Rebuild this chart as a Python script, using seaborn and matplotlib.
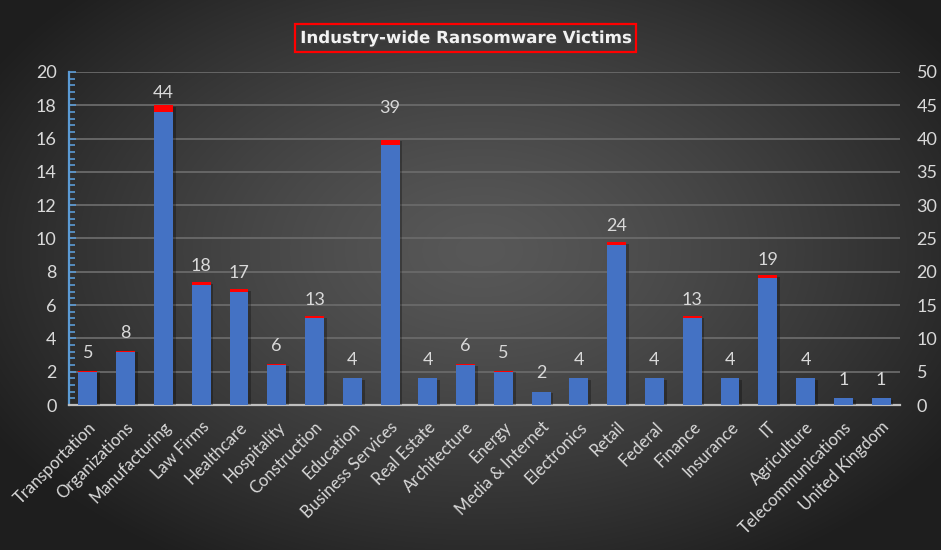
import numpy as np
import matplotlib
matplotlib.use("Agg")
import matplotlib.pyplot as plt
import matplotlib.patheffects as pe
import seaborn as sns
import pandas as pd

categories = ["Transportation", "Organizations", "Manufacturing", "Law Firms", "Healthcare",
              "Hospitality", "Construction", "Education", "Business Services", "Real Estate",
              "Architecture", "Energy", "Media & Internet", "Electronics", "Retail", "Federal",
              "Finance", "Insurance", "IT", "Agriculture", "Telecommunications", "United Kingdom"]
victims = [5, 8, 44, 18, 17, 6, 13, 4, 39, 4, 6, 5, 2, 4, 24, 4, 13, 4, 19, 4, 1, 1]
# thin red cap drawn on top of each bar (in victim units)
red_caps = [0.15, 0.1, 1.0, 0.4, 0.4, 0.1, 0.3, 0.0, 0.8, 0.0, 0.1, 0.1, 0.0, 0.0,
            0.4, 0.0, 0.3, 0.0, 0.5, 0.0, 0.0, 0.0]
left_ticks = [0, 2, 4, 6, 8, 10, 12, 14, 16, 18, 20]
right_ticks = [0, 5, 10, 15, 20, 25, 30, 35, 40, 45, 50]
title = "Industry-wide Ransomware Victims"

df = pd.DataFrame({"cat": categories, "v": victims,
                   "total": np.array(victims) + np.array(red_caps)})

sns.set_theme(style="dark")
plt.rcParams["font.family"] = ["Lato", "DejaVu Sans"]

W, H = 941, 550
fig = plt.figure(figsize=(W / 100, H / 100), dpi=100)

# radial gradient background
bg = fig.add_axes([0, 0, 1, 1])
yy, xx = np.mgrid[0:H, 0:W]
d = np.sqrt(((xx - 480) / 560.0) ** 2 + ((yy - 250) / 360.0) ** 2)
d = np.clip(d, 0, 1)
val = (0x58 - (0x58 - 0x1f) * d ** 1.3) / 255.0
img = np.dstack([val, val, val])
bg.imshow(img, extent=[0, 1, 0, 1], aspect="auto", origin="upper")
bg.set_axis_off()

ax = fig.add_axes([69 / W, 1 - 405 / H, (900 - 69) / W, (405 - 72) / H])
ax.set_facecolor("none")
ax2 = ax.twinx()
ax2.set_facecolor("none")

txt_col = "#d9d9d9"
blue = "#4472c4"

shadow = [pe.SimplePatchShadow(offset=(2, -1), alpha=0.28, shadow_rgbFace="black"), pe.Normal()]

sns.barplot(data=df, x="cat", y="total", color="#ff0000", saturation=1, width=0.5,
            linewidth=0, edgecolor="none", ax=ax2)
n_red = len(ax2.patches)
sns.barplot(data=df, x="cat", y="v", color=blue, saturation=1, width=0.5,
            linewidth=0, edgecolor="none", ax=ax2)
for p in ax2.patches[:n_red]:
    p.set_path_effects(shadow)

ax2.set_ylim(0, 50)
ax2.set_yticks(right_ticks)
ax2.set_xlim(-0.5, len(categories) - 0.5)
ax2.set_ylabel("")
ax2.set_xlabel("")

ax.set_ylim(0, 20)
ax.set_yticks(left_ticks)
ax.set_yticks(np.arange(0, 20.01, 0.4), minor=True)
ax.set_xlim(-0.5, len(categories) - 0.5)
ax.grid(axis="y", which="major", color="#6a6a6a", linewidth=1.3)
ax.grid(axis="x", visible=False)
ax2.grid(False)

for a in (ax, ax2):
    for s in a.spines.values():
        s.set_visible(False)
ax.spines["left"].set_visible(True)
ax.spines["left"].set_color("#5b9bd5")
ax.spines["left"].set_linewidth(1.6)
ax.spines["bottom"].set_visible(True)
ax.spines["bottom"].set_color("#bfbfbf")
ax.spines["bottom"].set_linewidth(1.6)

ax.tick_params(axis="y", which="both", direction="in", colors="#5b9bd5", left=True,
               labelcolor=txt_col, labelsize=13)
ax.tick_params(axis="y", which="major", length=5, width=1.2, pad=9)
ax.tick_params(axis="y", which="minor", length=4, width=1.2)
ax2.tick_params(axis="y", right=False, labelcolor=txt_col, labelsize=13, pad=6)

ax2.set_xticks(range(len(categories)))
ax2.set_xticklabels([])
ax.set_xticks(range(len(categories)))
ax.set_xticklabels(categories, rotation=45, ha="right", rotation_mode="anchor",
                   color=txt_col, fontsize=12)
ax.tick_params(axis="x", bottom=False, pad=4)

# data labels
for i, v in enumerate(victims):
    off = 27 if categories[i] == "Business Services" else 13.5
    ax2.annotate(str(v), (i, v), xytext=(0, off), textcoords="offset points",
                 ha="center", va="center", color=txt_col, fontsize=13)

t = fig.text(465.5 / W, 1 - 38 / H, title, ha="center", va="center", color="#f2f2f2",
             fontsize=12, fontweight="bold", family=["DejaVu Sans"],
             bbox=dict(boxstyle="square,pad=0.32", facecolor="none", edgecolor="#ff0000", linewidth=1.6))
t.set_path_effects([pe.withSimplePatchShadow(offset=(1, -1), alpha=0.6)])

fig.savefig("out.png", dpi=100)
